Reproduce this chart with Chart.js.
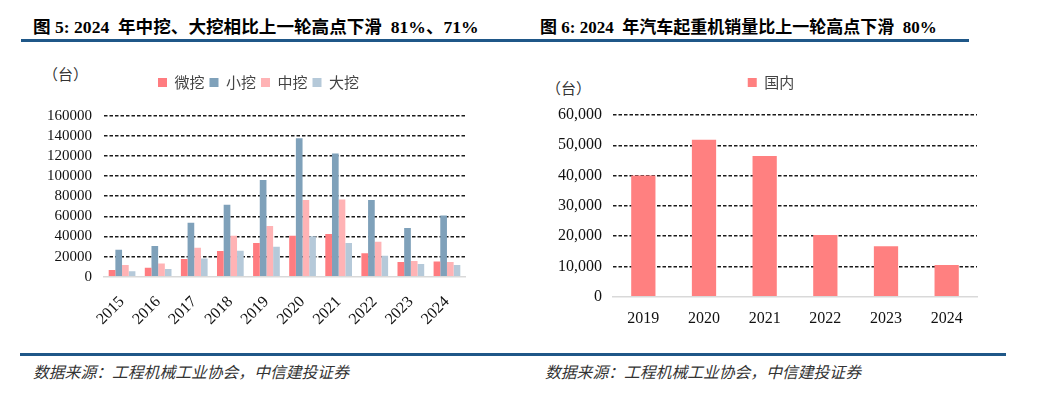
<!DOCTYPE html>
<html>
<head>
<meta charset="utf-8">
<script src="https://cdn.jsdelivr.net/npm/chart.js@4"></script>
<style>
    body { margin: 0; width: 1042px; height: 393px; background: #fff; position: relative; overflow: hidden; }
    .title { position: absolute; top: 13px; font: bold 17px "Liberation Serif", "Noto Sans CJK SC"; color: #000; white-space: pre; }
    .rule { position: absolute; height: 3px; background: #1f5788; }
    .unit { position: absolute; font: 15px "Liberation Serif", "Noto Sans CJK SC"; color: #333; }
    .source { position: absolute; top: 360px; font: italic 15.8px "Noto Sans CJK SC"; color: #333; }
    .box { position: absolute; }
</style>
</head>
<body>
<div class="title" style="left:33px; font-size:17.6px">图 5: 2024  年中挖、大挖相比上一轮高点下滑  81%、71%</div>
<div class="title" style="left:540px">图 6: 2024  年汽车起重机销量比上一轮高点下滑  80%</div>
<div class="rule" style="left:21px; top:39px; width:948px"></div>

<div class="unit" style="left:43px; top:63px">（台）</div>
<div class="unit" style="left:546px; top:77px">（台）</div>

<div class="box" style="left:30px; top:60px; width:450px; height:280px"><canvas id="c1"></canvas></div>
<div class="box" style="left:540px; top:60px; width:450px; height:280px"><canvas id="c2"></canvas></div>

<div class="rule" style="left:20px; top:353px; width:986px"></div>
<div class="source" style="left:33px">数据来源：工程机械工业协会，中信建投证券</div>
<div class="source" style="left:545px">数据来源：工程机械工业协会，中信建投证券</div>

<script>
// ---- 图5 挖掘机销量 ----
const years1 = ['2015', '2016', '2017', '2018', '2019', '2020', '2021', '2022', '2023', '2024'];
const micro  = [6600, 8900, 17500, 25500, 33400, 40700, 42400, 23200, 14600, 15200];
const small  = [26800, 30500, 53600, 71500, 96000, 137700, 122500, 76200, 48300, 60900];
const medium = [11600, 13200, 28800, 40700, 50300, 76200, 76800, 34800, 15600, 14600];
const large  = [5300, 7600, 18200, 25800, 29800, 40100, 33400, 20900, 12600, 11600];

// ---- 图6 汽车起重机 ----
const years2   = ['2019', '2020', '2021', '2022', '2023', '2024'];
const domestic = [40000, 51800, 46500, 20400, 16700, 10500];

const serif = 'Liberation Serif';
const cjk   = 'Noto Sans CJK SC';

// fixed legend box height (so the plot starts where the reference does) + nudge of the legend row
function legendTweak(h, dx, dy) {
    return {
        id: 'legendTweak',
        beforeLayout(chart) {
            const lg = chart.legend;
            if (!lg || lg._fixed) return;
            const fit = lg.fit, draw = lg.draw;
            lg.fit = function () { fit.call(this); this.height = h; };
            lg.draw = function () {
                const ctx = this.ctx;
                ctx.save(); ctx.translate(dx, dy);
                draw.call(this);
                ctx.restore();
            };
            lg._fixed = true;
        }
    };
}

const dashGrid = {
    color: ctx => ctx.tick && ctx.tick.value === 0 ? 'rgba(0,0,0,0)' : '#1a1a1a',
    lineWidth: 1.5,
    drawTicks: false
};
const dashBorder = { display: false, dash: [3.5, 2] };

const legendOpts = {
    position: 'top',
    labels: {
        boxWidth: 9, boxHeight: 9, padding: 5,
        color: '#444',
        font: { family: cjk, size: 15 }
    }
};

new Chart(document.getElementById('c1'), {
    type: 'bar',
    data: {
        labels: years1,
        datasets: [
            { label: '微挖', data: micro,  backgroundColor: '#ff7c80' },
            { label: '小挖', data: small,  backgroundColor: '#7fa1ba' },
            { label: '中挖', data: medium, backgroundColor: '#ffb3b5' },
            { label: '大挖', data: large,  backgroundColor: '#b5c9d9' }
        ]
    },
    options: {
        responsive: true,
        maintainAspectRatio: false,
        animation: false,
        layout: { padding: { left: 0, right: 15, top: 0, bottom: 0 } },
        datasets: { bar: { categoryPercentage: 0.74, barPercentage: 1 } },
        scales: {
            x: {
                grid: { display: false, drawTicks: false },
                border: { color: '#d9d9d9', width: 1.5 },
                ticks: { color: '#111', font: { family: serif, size: 16 }, maxRotation: 45, minRotation: 45, padding: 16 },
                afterFit: s => { s.height = 63.3; }
            },
            y: {
                min: 0, max: 160000,
                grid: dashGrid,
                border: dashBorder,
                ticks: { stepSize: 20000, autoSkip: false, color: '#111', font: { family: serif, size: 15 }, padding: 12, callback: v => String(v) },
                afterFit: s => { s.width = 74; }
            }
        },
        plugins: { legend: legendOpts, tooltip: { enabled: false } }
    },
    plugins: [legendTweak(55.7, 11, 10)]
});

new Chart(document.getElementById('c2'), {
    type: 'bar',
    data: {
        labels: years2,
        datasets: [
            { label: '国内', data: domestic, backgroundColor: '#ff8080' }
        ]
    },
    options: {
        responsive: true,
        maintainAspectRatio: false,
        animation: false,
        layout: { padding: { left: 0, right: 13, top: 0, bottom: 0 } },
        datasets: { bar: { categoryPercentage: 0.4, barPercentage: 1 } },
        scales: {
            x: {
                grid: { display: false, drawTicks: false },
                border: { color: '#d9d9d9', width: 1.5 },
                ticks: { color: '#111', font: { family: serif, size: 16 }, maxRotation: 0, padding: 12 },
                afterFit: s => { s.height = 43.3; }
            },
            y: {
                min: 0, max: 60000,
                grid: dashGrid,
                border: dashBorder,
                ticks: {
                    stepSize: 10000, autoSkip: false, color: '#111', font: { family: serif, size: 16 }, padding: 11,
                    callback: v => v.toLocaleString('en-US')
                },
                afterFit: s => { s.width = 73; }
            }
        },
        plugins: { legend: legendOpts, tooltip: { enabled: false } }
    },
    plugins: [legendTweak(55, 12.5, 10)]
});
</script>
</body>
</html>
